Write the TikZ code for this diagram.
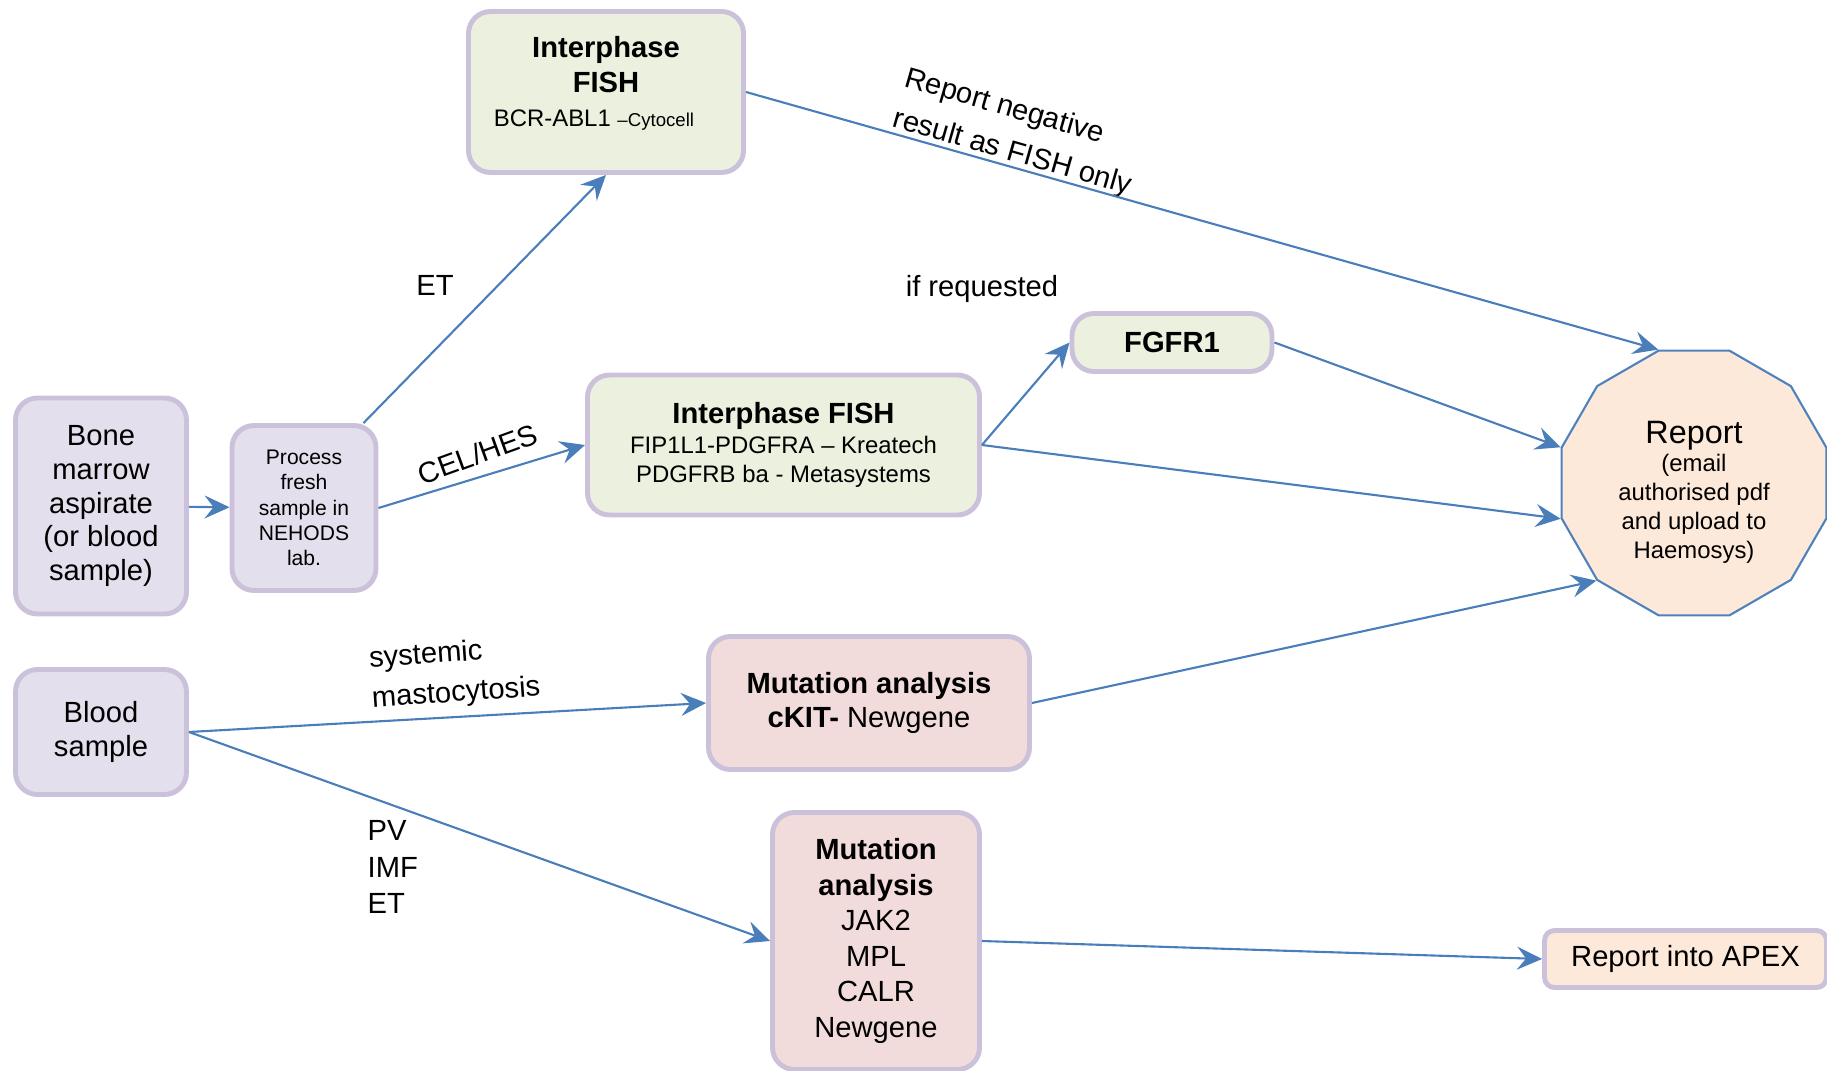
\documentclass[tikz,border=0pt]{standalone}
\usepackage{fontspec}
\setmainfont{Liberation Sans}
\usetikzlibrary{arrows.meta,shapes.geometric}

\definecolor{lavfill}{HTML}{E4DFEC}
\definecolor{lavline}{HTML}{CCC1DA}
\definecolor{fishfill}{HTML}{EBF1DE}
\definecolor{mutfill}{HTML}{F2DCDB}
\definecolor{repfill}{HTML}{FDE9D9}
\definecolor{arrowblue}{HTML}{4A7EBB}
\definecolor{repline}{HTML}{4F81BD}

\newcommand{\bigsz}{\fontsize{9.2}{11}\selectfont}
\newcommand{\mainsz}{\fontsize{8.3}{9.9}\selectfont}
\newcommand{\marrowsz}{\fontsize{8.3}{9.55}\selectfont}
\newcommand{\subsz}{\fontsize{6.8}{8.2}\selectfont}
\newcommand{\procsz}{\fontsize{6}{7.2}\selectfont}
\newcommand{\tinysz}{\fontsize{5.3}{6}\selectfont}

\begin{document}
\begin{tikzpicture}

      \useasboundingbox (0,0) rectangle (18.27,-10.71);

      \begin{scope}[every node/.style={draw=lavline,line width=1.4pt,rounded corners=0.22cm,align=center,font=\mainsz}]
        \node[fill=lavfill,minimum width=1.71cm,minimum height=2.16cm,font=\marrowsz] (marrow) at (1.01,-5.06) {Bone\\marrow\\aspirate\\(or blood\\sample)};
        \node[fill=lavfill,minimum width=1.44cm,minimum height=1.65cm,font=\procsz] (process) at (3.04,-5.08) {Process\\fresh\\sample in\\NEHODS\\lab.};
        \node[fill=lavfill,minimum width=1.71cm,minimum height=1.25cm] (blood)   at (1.01,-7.32)  {Blood\\sample};
        \node[fill=fishfill,minimum width=2.75cm,minimum height=1.61cm] (fishA)  at (6.06,-0.92)  {};
        \node[fill=fishfill,minimum width=3.92cm,minimum height=1.40cm,font=\subsz] (fishB) at (7.835,-4.45) {{\mainsz\bfseries Interphase FISH}\\[0.5pt]FIP1L1-PDGFRA -- Kreatech\\PDGFRB ba - Metasystems};
        \node[fill=fishfill,minimum width=2.00cm,minimum height=0.58cm,font=\mainsz\bfseries] (fgfr) at (11.72,-3.425) {FGFR1};
        \node[fill=mutfill,minimum width=3.21cm,minimum height=1.33cm] (kit)     at (8.69,-7.03)  {\textbf{Mutation analysis}\\\textbf{cKIT-} Newgene};
        \node[fill=mutfill,minimum width=2.07cm,minimum height=2.57cm,font=\fontsize{8.3}{10.1}\selectfont] (jak) at (8.76,-9.41) {\textbf{Mutation}\\\textbf{analysis}\\JAK2\\MPL\\CALR\\Newgene};
        \node[fill=repfill,minimum width=2.82cm,minimum height=0.57cm,rounded corners=0.1cm] (apex) at (16.855,-9.59) {Report into APEX};
      \end{scope}

      \node[regular polygon,regular polygon sides=12,minimum size=2.74cm,inner sep=0pt,
            draw=repline,line width=0.6pt,fill=repfill,align=center,font=\subsz] (report) at (16.94,-4.83)
            {{\bigsz Report}\\(email\\authorised pdf\\and upload to\\Haemosys)\\[-12pt]};

      \node[align=center,font=\mainsz] (fishAtxt) at (6.06,-0.835)
            {\textbf{Interphase}\\\textbf{FISH}\\{\subsz BCR-ABL1 {\tinysz --Cytocell}\hspace*{0.24cm}}};

      \begin{scope}[every node/.style={font=\mainsz,inner sep=0pt}]
        \node (etA)      at (4.35,-2.855)  {ET};
        \node (celhes)   at (4.78,-4.54)  [rotate=20] {CEL/HES};
        \node (negative) at (10.18,-1.33) [rotate=-16,align=left] {Report negative\\[2pt]result as FISH only};
        \node (ifreq)    at (9.82,-2.89)  {if requested};
        \node (masto)    at (3.70,-6.80)  [anchor=west,rotate=4,align=left] {systemic\\[1.5pt]mastocytosis};
        \node (mpn)      at (3.67,-8.67)  [anchor=west,align=left] {PV\\[0.6pt]IMF\\[0.6pt]ET};
      \end{scope}

      \begin{scope}[every edge/.style={draw=arrowblue,line width=0.6pt,-{Stealth[length=0.25cm,width=0.23cm,inset=0.09cm]}}]
        \path (marrow)       edge (process);
        \path (process.55)   edge (fishA.south);
        \path (process.east) edge (fishB.west);
        \path (fishA.east)   edge (report.corner 2);
        \path (fishB.east)   edge (fgfr.west);
        \path (fgfr.east)    edge (report.corner 4);
        \path (fishB.east)   edge (report.corner 5);
        \path (kit.east)     edge (report.corner 6);
        \path (blood.east)   edge (kit.west);
        \path (blood.east)   edge (jak.west);
        \path (jak.east)     edge (apex.west);
      \end{scope}

\end{tikzpicture}
\end{document}
